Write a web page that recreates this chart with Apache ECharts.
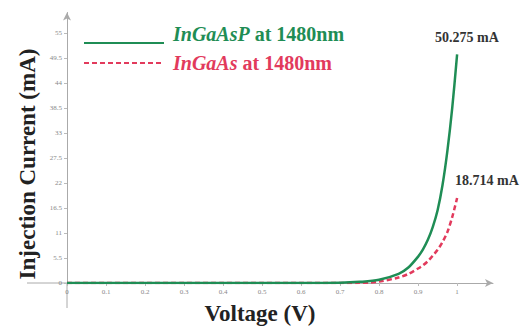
<!DOCTYPE html>
<html><head><meta charset="utf-8">
<script src="https://cdn.jsdelivr.net/npm/echarts@6/dist/echarts.min.js"></script>
<style>html,body{margin:0;padding:0;background:#fff}#c{width:528px;height:327px}</style>
</head><body><div id="c"></div>
<script>
var voltageP = [0, 0.1, 0.2, 0.3, 0.4, 0.5, 0.6, 0.7, 0.75, 0.8, 0.85, 0.875, 0.9, 0.9125, 0.925, 0.9375, 0.95, 0.9625, 0.975, 0.9875, 1.0];
var currentP = [0, 0, 0, 0, 0, 0, 0, 0.05, 0.25, 0.7, 2.0, 3.4, 5.8, 7.4, 9.5, 12.3, 16, 21.5, 29, 38.5, 50.275];
var voltageS = [0, 0.1, 0.2, 0.3, 0.4, 0.5, 0.6, 0.7, 0.75, 0.78, 0.8, 0.85, 0.875, 0.9, 0.9125, 0.925, 0.9375, 0.95, 0.9625, 0.975, 0.9875, 1.0];
var currentS = [0, 0, 0, 0, 0, 0, 0, 0, 0.03, 0.1, 0.3, 1.2, 2.0, 3.2, 3.9, 4.8, 6.0, 7.3, 9.0, 11.2, 14.5, 18.714];
var xTicks = [0, 0.1, 0.2, 0.3, 0.4, 0.5, 0.6, 0.7, 0.8, 0.9, 1];
var yTicks = [0, 5.5, 11, 16.5, 22, 27.5, 33, 38.5, 44, 49.5, 55];
var nameP = 'InGaAsP', nameS = 'InGaAs';

function pairs(xs, ys) {
  return xs.map(function (x, i) { return [x, ys[i]]; });
}
function inList(list, v) {
  for (var i = 0; i < list.length; i++) if (Math.abs(list[i] - v) < 1e-6) return String(list[i]);
  return '';
}
var serif = '"Liberation Serif", "DejaVu Serif", serif';
var green = '#1f8d55', red = '#e23a5c';
function legendRich(color, padBottom) {
  return {
    i: { color: color, fontFamily: serif, fontSize: 20, fontWeight: 'bold', fontStyle: 'italic', lineHeight: 18, padding: [0, 0, padBottom, 4] },
    b: { color: color, fontFamily: serif, fontSize: 20, fontWeight: 'bold', lineHeight: 18, padding: [0, 0, padBottom, 0] }
  };
}
function endLbl(off) {
  return {
    show: true, offset: off,
    formatter: function (p) { return p.value[1].toFixed(3) + ' mA'; },
    fontFamily: serif, fontWeight: 'bold', fontSize: 14, color: '#333'
  };
}

var chart = echarts.init(document.getElementById('c'), null, { renderer: 'svg' });
chart.setOption({
  animation: false,
  grid: { left: 67, right: 35, top: 12.5, bottom: 44, containLabel: false },
  xAxis: {
    type: 'value', min: 0, max: 1.092, interval: 0.1,
    splitLine: { show: false },
    axisLine: { symbol: ['none', 'arrow'], symbolSize: [6, 8], lineStyle: { color: '#aaa', width: 1 } },
    axisTick: { show: true, length: 3, lineStyle: { color: '#bbb' } },
    axisLabel: { fontSize: 7, color: '#888', fontFamily: serif, margin: 5, showMaxLabel: false,
      formatter: function (v) { return inList(xTicks, v); } }
  },
  yAxis: {
    type: 'value', min: 0, max: 59.5, interval: 5.5,
    splitLine: { show: false },
    axisLine: { symbol: ['none', 'arrow'], symbolSize: [6, 8], lineStyle: { color: '#aaa', width: 1 } },
    axisTick: { show: true, length: 3, lineStyle: { color: '#bbb' } },
    axisLabel: { fontSize: 7, color: '#888', fontFamily: serif, margin: 5, showMaxLabel: false,
      formatter: function (v) { return inList(yTicks, v); } }
  },
  legend: {
    orient: 'vertical', left: 78, top: 19, itemGap: -9,
    itemWidth: 80, itemHeight: 14,
    itemStyle: { opacity: 0 },
    data: [
      { name: nameP, textStyle: { rich: legendRich(green, 18) } },
      { name: nameS, textStyle: { rich: legendRich(red, 0) } }
    ],
    formatter: function (n) { return '{i|' + n + '}{b| at 1480nm}'; }
  },
  series: [
    {
      name: nameP, type: 'line', smooth: 0.3, symbol: 'none', z: 3,
      lineStyle: { color: green, width: 2.5 }, itemStyle: { color: green },
      endLabel: endLbl([-30, -17]),
      data: pairs(voltageP, currentP)
    },
    {
      name: nameS, type: 'line', smooth: 0.3, symbol: 'none', z: 2,
      lineStyle: { color: red, width: 2.5, type: [5, 3] }, itemStyle: { color: red },
      endLabel: endLbl([-10, -17]),
      data: pairs(voltageS, currentS)
    }
  ]
});
var o = chart.convertToPixel({ gridIndex: 0 }, [0, 0]);
var extStyle = { stroke: '#aaa', lineWidth: 1 };
chart.setOption({
  graphic: [
    { type: 'line', shape: { x1: o[0] - 40, y1: o[1], x2: o[0], y2: o[1] }, style: extStyle, silent: true },
    { type: 'line', shape: { x1: o[0], y1: o[1], x2: o[0], y2: o[1] + 25 }, style: extStyle, silent: true },
    { type: 'text', x: 260, y: 313, style: { text: 'Voltage (V)', font: 'bold 23px ' + serif, fill: '#222', align: 'center', verticalAlign: 'middle' } },
    { type: 'text', rotation: Math.PI / 2, x: 27, y: 164, style: { text: 'Injection Current (mA)', font: 'bold 23px ' + serif, fill: '#222', align: 'center', verticalAlign: 'middle' } }
  ]
});
</script></body></html>
